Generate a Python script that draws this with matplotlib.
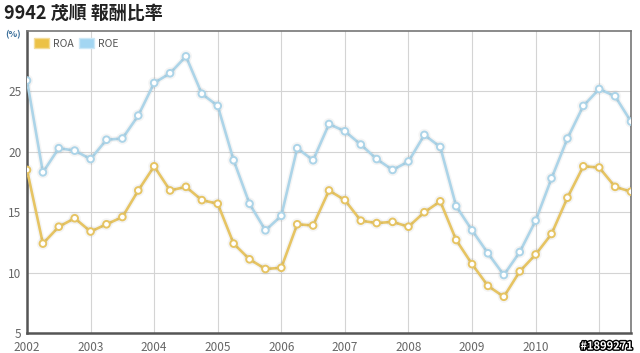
import matplotlib
matplotlib.use('Agg')
from matplotlib import pyplot as plt
from matplotlib.patches import Patch
import matplotlib.patheffects as pe

plt.rcParams['font.family'] = ['Noto Sans CJK TC', 'DejaVu Sans']

# quarterly data, 2002Q1 .. 2011Q3
quarters = [2002 + i * 0.25 for i in range(39)]

roa = [18.5, 12.4, 13.8, 14.5, 13.4, 14.0, 14.6, 16.8,
       18.8, 16.8, 17.1, 16.0, 15.7, 12.4, 11.1, 10.3,
       10.4, 14.0, 13.9, 16.8, 16.0, 14.3, 14.1, 14.2,
       13.8, 15.0, 15.9, 12.7, 10.7, 8.9, 8.0, 10.1,
       11.5, 13.2, 16.2, 18.8, 18.7, 17.1, 16.7]

roe = [25.9, 18.3, 20.3, 20.1, 19.4, 21.0, 21.1, 23.0,
       25.7, 26.5, 27.9, 24.8, 23.8, 19.3, 15.7, 13.5,
       14.7, 20.3, 19.3, 22.3, 21.7, 20.6, 19.4, 18.5,
       19.2, 21.4, 20.4, 15.5, 13.5, 11.6, 9.8, 11.7,
       14.3, 17.8, 21.1, 23.8, 25.2, 24.6, 22.5]

years = list(range(2002, 2012))
year_labels = [str(y) for y in range(2002, 2011)] + ['']

c_roa = '#e6c463'
c_roe = '#acd4e8'

fig = plt.figure(figsize=(6.4, 3.53), dpi=100)
ax = fig.add_axes([27 / 640, 20 / 353, 604 / 640, 302 / 353])

glow = [pe.Stroke(linewidth=4, foreground='#000000', alpha=0.04), pe.Normal()]
ax.plot(quarters, roe, color=c_roe, lw=1.9, marker='o', ms=4.8,
        mfc='white', mec=c_roe, mew=1.4, path_effects=glow, zorder=3)
ax.plot(quarters, roa, color=c_roa, lw=1.9, marker='o', ms=4.8,
        mfc='white', mec=c_roa, mew=1.4, path_effects=glow, zorder=3)

ax.set_xlim(2002, 2011.5)
ax.set_ylim(5, 30)
ax.set_xticks(years)
ax.set_xticklabels(year_labels)
ax.set_yticks([5, 10, 15, 20, 25])
ax.grid(True, color='#d4d4d4', lw=0.8)
ax.tick_params(length=0, labelsize=8.5, colors='#666666')
ax.tick_params(axis='x', pad=6)
ax.tick_params(axis='y', pad=4)

for s in ['left', 'bottom']:
    ax.spines[s].set_color('#555555')
    ax.spines[s].set_linewidth(1.8)
for s in ['top', 'right']:
    ax.spines[s].set_color('#777777')
    ax.spines[s].set_linewidth(1.2)

handles = [Patch(facecolor='#ecc246', edgecolor='#f3dc9a', label='ROA'),
           Patch(facecolor='#a3d6f2', edgecolor='#cce8f7', label='ROE')]
ax.legend(handles=handles, loc='upper left', ncol=2, frameon=False,
          fontsize=7.5, handlelength=1.4, handleheight=1.0,
          handletextpad=0.4, columnspacing=0.5,
          bbox_to_anchor=(0.0, 1.0), borderaxespad=0.3,
          labelcolor='#555555')

fig.text(4 / 640, 1 - 13 / 353, '9942 茂順 報酬比率', fontsize=13,
         fontweight='bold', color='#222222', va='center', ha='left')
fig.text(5 / 640, 1 - 35 / 353, '(%)', fontsize=6.5, color='#3a6e9a',
         va='center', ha='left', fontweight='bold')

wm = fig.text(633 / 640, 1 - 346 / 353, '#1899271', fontsize=8,
              fontweight='bold', color='white', ha='right', va='center')
wm.set_path_effects([pe.Stroke(linewidth=2, foreground='black'), pe.Normal()])

fig.savefig('out.png', dpi=100)
